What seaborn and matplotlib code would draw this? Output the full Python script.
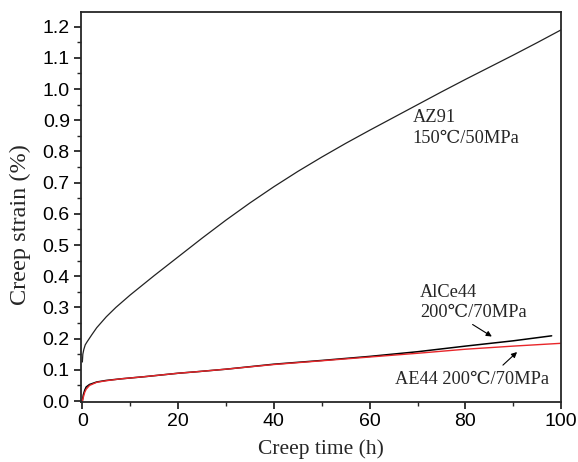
import numpy as np
import pandas as pd
import matplotlib
matplotlib.use("Agg")
import matplotlib.pyplot as plt
from matplotlib.ticker import MultipleLocator
import seaborn as sns

# creep curves
az91_time = [0, 0.1, 0.3, 0.6, 1, 2, 3, 5, 7, 10, 15, 20, 25, 30, 35, 40, 45,
             50, 55, 60, 65, 70, 75, 80, 85, 90, 95, 100]
az91_strain = [0.125, 0.15, 0.165, 0.18, 0.19, 0.213, 0.235, 0.27, 0.30, 0.34,
               0.402, 0.462, 0.522, 0.58, 0.635, 0.687, 0.736, 0.782, 0.826,
               0.868, 0.909, 0.95, 0.991, 1.031, 1.07, 1.109, 1.149, 1.19]

alce44_time = [0, 0.2, 0.5, 0.8, 1.5, 3, 5, 8, 13, 20, 24, 30, 40, 50, 60,
               70, 80, 90, 98]
alce44_strain = [0.0, 0.02, 0.035, 0.045, 0.053, 0.061, 0.066, 0.071, 0.078,
                 0.089, 0.094, 0.102, 0.118, 0.13, 0.143, 0.158, 0.176, 0.193,
                 0.209]

ae44_time = [0, 0.2, 0.5, 0.8, 1.5, 3, 5, 8, 13, 20, 24, 30, 40, 50, 60, 70,
             80, 90, 100]
ae44_strain = [0.0, 0.012, 0.028, 0.038, 0.05, 0.06, 0.065, 0.071, 0.078,
               0.089, 0.094, 0.102, 0.117, 0.129, 0.141, 0.153, 0.166, 0.176,
               0.185]

sns.set_style("ticks")
plt.rcParams['font.family'] = ['Liberation Sans', 'DejaVu Sans']
serif = ['Liberation Serif', 'DejaVu Serif']

fig = plt.figure(figsize=(5.78, 4.62), dpi=100)
ax = fig.add_axes([0.140, 0.130, 0.831, 0.844])

sns.lineplot(x=az91_time, y=az91_strain, color='#222222', lw=0.9, ax=ax)
sns.lineplot(x=alce44_time, y=alce44_strain, color='black', lw=1.1, ax=ax)
sns.lineplot(x=ae44_time, y=ae44_strain, color='#e8262a', lw=1.0, ax=ax)

ax.set_xlim(-0.3, 100)
ax.set_ylim(-0.003, 1.247)
ax.xaxis.set_major_locator(MultipleLocator(20))
ax.xaxis.set_minor_locator(MultipleLocator(10))
ax.yaxis.set_major_locator(MultipleLocator(0.1))
ax.yaxis.set_minor_locator(MultipleLocator(0.05))
ax.yaxis.set_major_formatter(matplotlib.ticker.FormatStrFormatter('%.1f'))
ax.tick_params(which='major', direction='out', length=5, width=1.1,
               labelsize=14, colors='black', pad=3)
ax.tick_params(which='minor', direction='out', length=3, width=1.0)
for sp in ax.spines.values():
    sp.set_linewidth(1.3)
    sp.set_visible(True)

ax.set_xlabel('Creep time (h)', family=serif, fontsize=15.5)
ax.set_ylabel('Creep strain (%)', family=serif, fontsize=17.5)
ax.xaxis.set_label_coords(0.5, -0.095)
ax.yaxis.set_label_coords(-0.104, 0.454)
ax.xaxis.label.set_va('top')

ax.text(69, 0.935, 'AZ91\n150\u2103/50MPa', family=serif, fontsize=13.2,
        va='top', ha='left', linespacing=1.25)
ax.text(70.5, 0.375, 'AlCe44\n200\u2103/70MPa', family=serif, fontsize=13.2,
        va='top', ha='left', linespacing=1.25)
ax.text(65.3, 0.07, 'AE44 200\u2103/70MPa', family=serif, fontsize=13.2,
        va='center', ha='left')
ax.annotate('', xy=(86, 0.202), xytext=(81, 0.25),
            arrowprops=dict(arrowstyle='-|>', color='black', lw=0.8,
                            mutation_scale=8))
ax.annotate('', xy=(91.2, 0.163), xytext=(87.4, 0.109),
            arrowprops=dict(arrowstyle='-|>', color='black', lw=0.8,
                            mutation_scale=8))

fig.savefig('out.png', dpi=100)
